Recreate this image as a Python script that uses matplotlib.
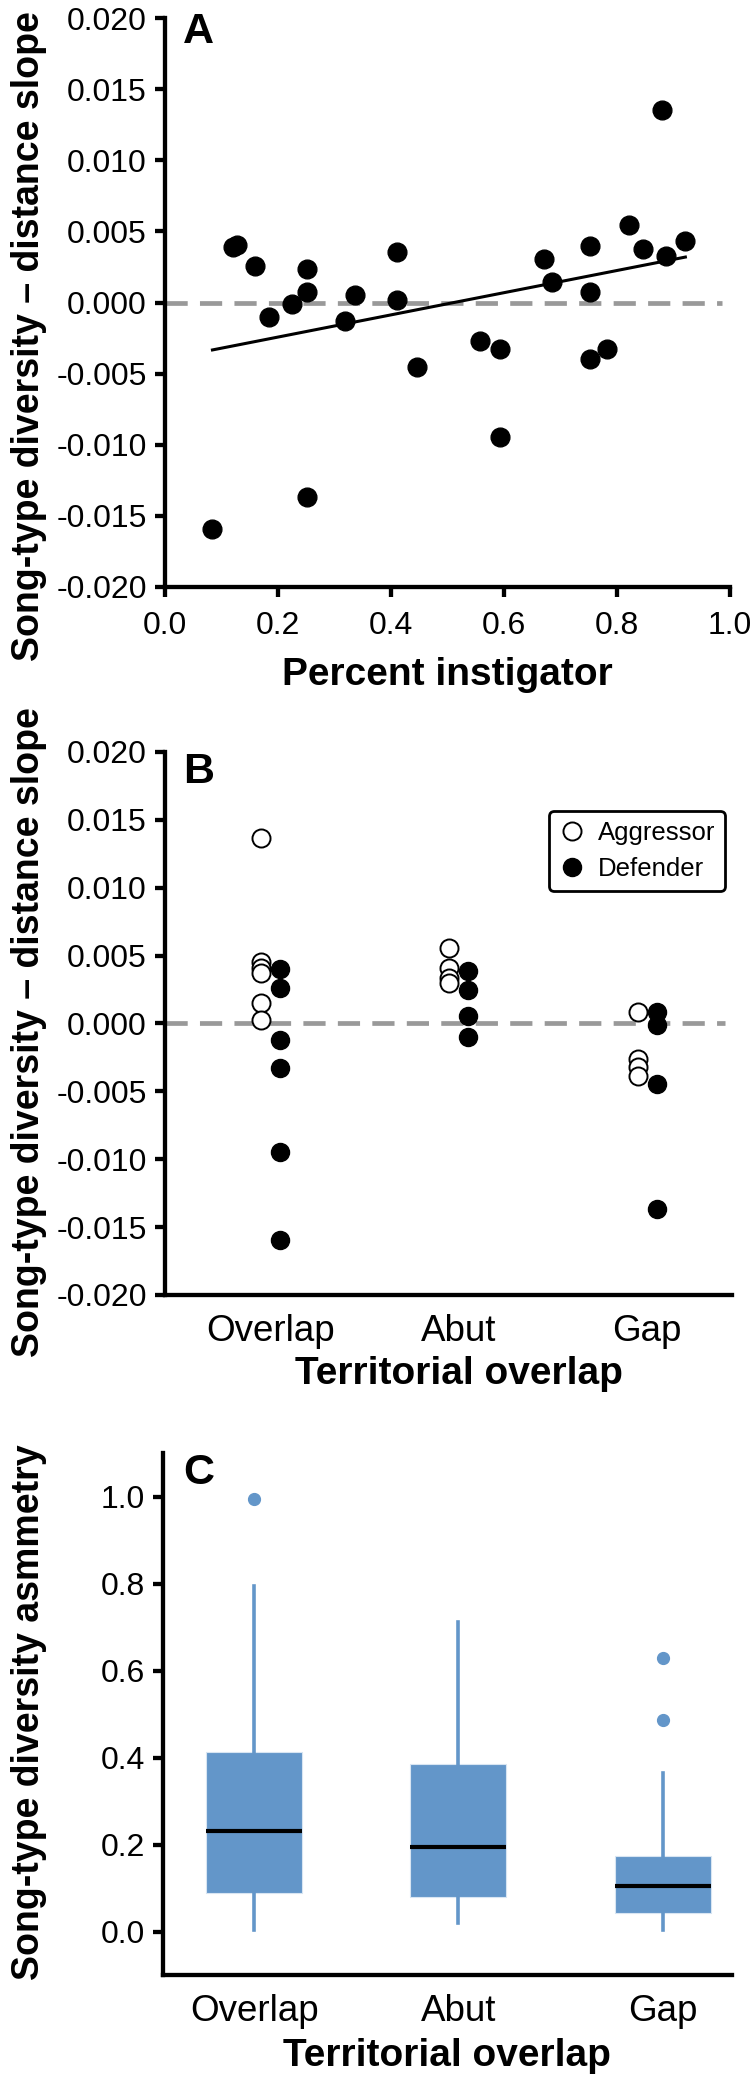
import numpy as np
import matplotlib
matplotlib.use('Agg')
import matplotlib.pyplot as plt

plt.rcParams['font.family'] = ['Liberation Sans', 'DejaVu Sans']
plt.rcParams['axes.unicode_minus'] = False

# panel A - slope vs percent instigator
pct_instigator = [0.084, 0.121, 0.127, 0.160, 0.184, 0.224, 0.252, 0.252, 0.252, 0.319,
                  0.336, 0.411, 0.411, 0.446, 0.557, 0.593, 0.593, 0.670, 0.685, 0.753,
                  0.753, 0.753, 0.783, 0.821, 0.846, 0.879, 0.886, 0.921]
slope = [-0.01594, 0.00387, 0.00403, 0.00257, -0.00103, -0.00012, 0.00239, 0.00077, -0.01366, -0.00129,
         0.00051, 0.00358, 0.00016, -0.00450, -0.00270, -0.00328, -0.00949, 0.00309, 0.00147, 0.00396,
         0.00075, -0.00399, -0.00328, 0.00546, 0.00377, 0.01352, 0.00328, 0.00429]
fit_slope = 0.0078
fit_intercept = -0.00399

# panel B - slope by territorial overlap and role
categories = ['Overlap', 'Abut', 'Gap']
aggressor = [[0.01363, 0.00450, 0.00410, 0.00370, 0.00152, 0.00024],
             [0.00558, 0.00410, 0.00336, 0.00300],
             [0.00086, -0.00260, -0.00320, -0.00390]]
defender = [[0.00398, 0.00263, -0.00125, -0.00326, -0.00945, -0.01596],
            [0.00385, 0.00245, 0.00054, -0.00098],
            [0.00086, -0.00012, -0.00444, -0.01365]]

# panel C - asymmetry boxplots (whislo, q1, med, q3, whishi, fliers)
box_whislo = [0.003, 0.020, 0.003]
box_q1 = [0.089, 0.079, 0.043]
box_med = [0.230, 0.194, 0.104]
box_q3 = [0.413, 0.384, 0.174]
box_whishi = [0.794, 0.712, 0.365]
box_fliers = [[0.995], [], [0.629, 0.487]]

slope_ticks = [-0.020, -0.015, -0.010, -0.005, 0.000, 0.005, 0.010, 0.015, 0.020]
pct_ticks = [0.0, 0.2, 0.4, 0.6, 0.8, 1.0]
asym_ticks = [0.0, 0.2, 0.4, 0.6, 0.8, 1.0]

blue = '#6396C9'
W, H = 754, 2082
fig = plt.figure(figsize=(W / 100, H / 100), dpi=100)

def axes_px(left, top, right, bottom):
    return fig.add_axes([left / W, 1 - bottom / H, (right - left) / W, (bottom - top) / H])

ax_a = axes_px(165, 18, 730, 587)
ax_b = axes_px(165, 752, 732, 1295)
ax_c = axes_px(163, 1453, 732, 1975)

ylab = 'Song-type diversity \u2013 distance slope'
for ax in (ax_a, ax_b, ax_c):
    ax.spines['top'].set_visible(False)
    ax.spines['right'].set_visible(False)
    ax.spines['left'].set_linewidth(3.1)
    ax.spines['bottom'].set_linewidth(3.1)
    ax.tick_params(axis='y', direction='out', length=7, width=3.1, labelsize=23, pad=6)

# ---- A
ax_a.axhline(0, color='#999999', lw=3.4, dashes=(4.7, 2.6), xmax=0.985, zorder=1)
ax_a.plot(pct_instigator, slope, 'o', color='black', ms=13.5, zorder=3, clip_on=False)
fx = np.array([min(pct_instigator), max(pct_instigator)])
ax_a.plot(fx, fit_slope * fx + fit_intercept, color='black', lw=2.2, zorder=2)
ax_a.set_xlim(0, 1)
ax_a.set_ylim(-0.02, 0.02)
ax_a.set_xticks(pct_ticks)
ax_a.set_xticklabels(['%.1f' % t for t in pct_ticks])
ax_a.set_yticks(slope_ticks)
ax_a.set_yticklabels(['%.3f' % t for t in slope_ticks])
ax_a.tick_params(axis='x', direction='out', length=7, width=3.1, labelsize=23, pad=10)
ax_a.set_xlabel('Percent instigator', fontsize=28, fontweight='bold')
ax_a.xaxis.set_label_coords(447.5 / W, 1 - 657 / H, transform=fig.transFigure)
ax_a.set_ylabel(ylab, fontsize=27, fontweight='bold')
ax_a.yaxis.set_label_coords(47 / W, 1 - 336 / H, transform=fig.transFigure)
ax_a.text(0.032, 1.01, 'A', transform=ax_a.transAxes, fontsize=31, fontweight='bold', va='top')

# ---- B
pos = np.arange(1, len(categories) + 1)
ax_b.axhline(0, color='#999999', lw=3.4, dashes=(4.7, 2.6), xmax=0.988, zorder=1)
for i in range(len(categories)):
    ax_b.plot([pos[i] - 0.05] * len(aggressor[i]), aggressor[i], 'o', mfc='white', mec='black',
              mew=1.4, ms=13, zorder=3, label='Aggressor' if i == 0 else None)
    ax_b.plot([pos[i] + 0.05] * len(defender[i]), defender[i], 'o', color='black',
              ms=13, zorder=3, label='Defender' if i == 0 else None)
ax_b.set_xlim(0.44, 3.45)
ax_b.set_ylim(-0.02, 0.02)
ax_b.set_xticks(pos)
ax_b.set_xticklabels(categories)
ax_b.tick_params(axis='x', length=0, labelsize=26.5, pad=14)
ax_b.set_yticks(slope_ticks)
ax_b.set_yticklabels(['%.3f' % t for t in slope_ticks])
ax_b.set_xlabel('Territorial overlap', fontsize=28, fontweight='bold')
ax_b.xaxis.set_label_coords(459 / W, 1 - 1356 / H, transform=fig.transFigure)
ax_b.set_ylabel(ylab, fontsize=27, fontweight='bold')
ax_b.yaxis.set_label_coords(47 / W, 1 - 1032 / H, transform=fig.transFigure)
ax_b.text(0.032, 1.0, 'B', transform=ax_b.transAxes, fontsize=31, fontweight='bold', va='top')
leg = ax_b.legend(loc='upper right', bbox_to_anchor=(0.988, 0.891), borderaxespad=0,
                  fontsize=18.5, numpoints=1, handlelength=1.0, handletextpad=0.5,
                  borderpad=0.4, labelspacing=0.45, fancybox=True, framealpha=1)
leg.get_frame().set_edgecolor('black')
leg.get_frame().set_linewidth(2.0)

# ---- C
stats = []
for i in range(len(categories)):
    stats.append(dict(whislo=box_whislo[i], q1=box_q1[i], med=box_med[i], q3=box_q3[i],
                      whishi=box_whishi[i], fliers=box_fliers[i]))
ax_c.bxp(stats, positions=pos, widths=0.47, patch_artist=True, showcaps=False,
         boxprops=dict(facecolor=blue, edgecolor='#d8e5f2', linewidth=0.8),
         whiskerprops=dict(color=blue, linewidth=2.6),
         medianprops=dict(color='black', linewidth=3.0),
         flierprops=dict(marker='o', markerfacecolor=blue, markeredgecolor=blue, markersize=8.5))
ax_c.set_xlim(0.554, 3.34)
ax_c.set_ylim(-0.1, 1.1)
ax_c.set_yticks(asym_ticks)
ax_c.set_yticklabels(['%.1f' % t for t in asym_ticks])
ax_c.set_xticks(pos)
ax_c.set_xticklabels(categories)
ax_c.tick_params(axis='x', length=0, labelsize=26.5, pad=14)
ax_c.set_xlabel('Territorial overlap', fontsize=28, fontweight='bold')
ax_c.xaxis.set_label_coords(447 / W, 1 - 2038 / H, transform=fig.transFigure)
ax_c.set_ylabel('Song-type diversity asmmetry', fontsize=27, fontweight='bold')
ax_c.yaxis.set_label_coords(47 / W, 1 - 1712 / H, transform=fig.transFigure)
ax_c.text(0.035, 1.0, 'C', transform=ax_c.transAxes, fontsize=31, fontweight='bold', va='top')

fig.savefig('out.png', dpi=100)
